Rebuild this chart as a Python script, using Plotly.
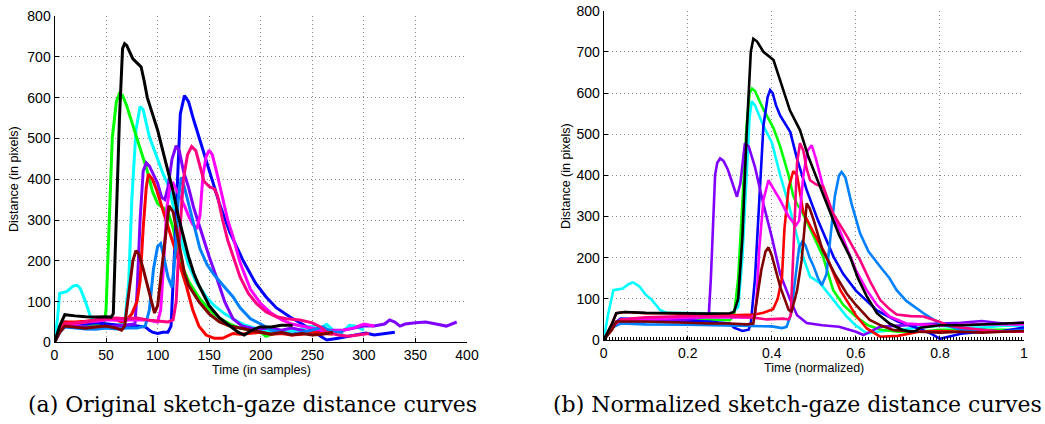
import plotly.graph_objects as go

# ---------------- Data: (a) original curves, x in samples ----------------
orig_cyan = [(0,0),(3,60),(5,120),(8,122),(12,125),(18,138),(22,140),(25,132),(30,100),(35,62),(40,48),(50,45),(60,42),(68,45),(72,150),(75,350),(79,520),(83,578),(86,570),(92,504),(100,450),(105,415),(111,382),(118,300),(124,240),(130,190),(137,150),(147,112),(155,90),(165,70),(175,55),(185,42),(195,35),(205,28),(215,22),(225,25),(235,30),(245,38),(252,40),(258,35),(264,44),(270,30),(280,28),(286,42),(292,40),(300,30)]
orig_green = [(0,0),(5,25),(10,45),(20,42),(30,40),(40,42),(48,45),(50,80),(53,300),(56,500),(60,590),(63,610),(66,605),(70,580),(75,540),(80,500),(85,460),(90,420),(95,370),(100,340),(105,330),(110,320),(115,280),(120,220),(125,180),(130,150),(140,110),(150,80),(160,60),(170,45),(180,35),(190,30),(200,25),(205,15),(210,20),(220,25)]
orig_blue = [(0,0),(5,30),(10,50),(20,48),(30,45),(40,48),(50,45),(60,42),(70,40),(80,40),(88,38),(92,30),(95,25),(100,22),(105,25),(110,25),(113,40),(116,200),(119,400),(122,560),(126,605),(130,590),(135,545),(141,496),(150,420),(160,340),(170,270),(183,200),(195,145),(205,112),(215,85),(228,63),(240,45),(250,30),(258,15),(264,6),(275,10),(290,18),(302,23),(310,18),(320,22),(330,25)]
orig_purple = [(0,0),(5,30),(10,42),(20,40),(30,38),(50,38),(60,40),(70,42),(78,45),(80,120),(83,300),(86,420),(89,440),(92,432),(96,410),(100,390),(104,355),(107,350),(110,380),(114,450),(118,482),(121,470),(125,420),(130,380),(135,330),(141,280),(150,210),(157,160),(165,100),(173,58),(182,40),(196,32),(210,35),(220,30),(230,35),(240,30),(250,25),(260,30),(270,30),(280,30),(290,35),(300,40),(310,40),(320,45),(325,55),(330,50),(335,40),(340,45),(350,48),(360,50),(370,45),(380,40),(390,50)]
orig_red = [(0,0),(5,30),(10,50),(20,50),(30,52),(40,55),(50,58),(60,55),(65,50),(70,55),(75,70),(80,100),(83,150),(86,280),(89,380),(91,412),(95,400),(99,374),(107,308),(115,243),(121,190),(128,137),(134,80),(140,40),(147,18),(155,10),(163,10),(173,22),(180,20),(190,22),(200,25),(210,20),(220,22),(230,18),(240,20),(250,25),(260,22),(270,20)]
orig_magenta = [(0,0),(5,25),(10,40),(20,45),(30,50),(40,52),(50,55),(60,55),(70,55),(80,55),(90,55),(100,50),(103,80),(106,200),(109,330),(112,385),(115,390),(118,375),(122,355),(126,335),(130,310),(134,290),(138,278),(141,310),(144,410),(147,455),(150,471),(153,460),(157,420),(163,357),(168,300),(173,260),(180,195),(190,130),(200,95),(210,72),(220,56),(230,45),(240,40),(250,35),(260,30),(270,28),(280,30),(290,35),(300,45),(310,40)]
orig_dodger = [(0,0),(5,25),(10,38),(20,35),(30,33),(40,32),(50,35),(60,33),(70,35),(80,35),(88,40),(92,80),(96,180),(100,235),(103,242),(106,210),(110,160),(114,135),(117,220),(120,350),(123,405),(126,380),(130,340),(135,290),(141,230),(148,190),(155,165),(165,135),(173,112),(180,85),(190,58),(200,45),(210,30),(220,25),(230,20),(240,25),(250,30),(260,38),(270,25),(280,25)]
orig_pink = [(0,0),(5,30),(10,45),(20,48),(30,50),(40,55),(50,58),(60,60),(70,58),(80,60),(90,55),(100,52),(110,50),(115,55),(118,100),(121,250),(125,400),(129,460),(133,480),(137,470),(141,430),(145,395),(150,382),(155,376),(158,360),(163,300),(168,250),(173,210),(180,160),(188,120),(196,95),(205,75),(215,63),(225,58),(238,55),(250,48),(258,38),(264,25),(275,18),(285,15),(295,18),(305,22)]
orig_maroon = [(0,0),(5,25),(10,40),(20,38),(30,35),(40,38),(50,40),(60,35),(65,30),(68,40),(72,120),(76,200),(79,225),(82,215),(86,180),(90,140),(94,100),(97,72),(100,90),(104,180),(108,280),(111,335),(115,320),(118,280),(122,220),(126,170),(130,140),(140,100),(150,70),(160,50),(170,40),(180,35),(190,30),(200,25),(210,20),(220,25),(230,18),(240,22),(250,18),(260,20),(270,25)]
orig_black = [(0,0),(5,40),(10,68),(15,66),(20,65),(30,63),(40,62),(50,63),(55,62),(57,70),(60,300),(63,550),(66,720),(68,732),(70,728),(73,710),(76,695),(80,685),(84,675),(87,640),(90,600),(95,560),(100,520),(105,470),(110,420),(115,370),(120,310),(125,260),(130,210),(135,170),(140,140),(145,115),(150,90),(160,60),(170,40),(178,25),(184,18),(190,28),(199,38),(210,38),(220,42),(231,42)]

# ---------------- Data: (b) normalized curves, x in [0, 1] ----------------
norm_cyan = [(0,0),(0.01,60),(0.023,121),(0.045,125),(0.06,136),(0.07,140),(0.085,130),(0.1,110),(0.115,97),(0.134,73),(0.15,66),(0.2,66),(0.25,65),(0.3,62),(0.32,80),(0.33,200),(0.34,400),(0.347,540),(0.352,580),(0.36,570),(0.38,520),(0.4,480),(0.42,400),(0.44,330),(0.468,220),(0.491,154),(0.515,138),(0.54,105),(0.56,80),(0.578,57),(0.6,35),(0.626,16),(0.65,20),(0.7,25),(0.75,30),(0.8,35),(0.85,30),(0.9,30),(0.95,35),(1,35)]
norm_green = [(0,0),(0.02,30),(0.04,45),(0.1,45),(0.2,48),(0.25,50),(0.3,48),(0.31,60),(0.32,150),(0.33,350),(0.34,520),(0.347,600),(0.353,611),(0.36,605),(0.38,560),(0.404,515),(0.42,470),(0.44,400),(0.451,350),(0.46,330),(0.47,315),(0.48,295),(0.5,250),(0.522,202),(0.546,121),(0.57,85),(0.602,55),(0.63,35),(0.66,25),(0.7,20),(0.75,20),(0.8,25),(0.85,25),(0.9,25),(1,25)]
norm_blue = [(0,0),(0.02,35),(0.04,52),(0.1,50),(0.15,48),(0.2,45),(0.25,45),(0.28,42),(0.3,40),(0.31,30),(0.32,25),(0.33,22),(0.345,25),(0.35,40),(0.36,150),(0.37,350),(0.38,520),(0.39,590),(0.396,607),(0.402,600),(0.41,570),(0.42,545),(0.444,505),(0.46,440),(0.483,364),(0.51,290),(0.547,202),(0.57,160),(0.6,120),(0.65,72),(0.7,45),(0.75,28),(0.78,15),(0.8,3),(0.82,8),(0.85,15),(0.9,20),(0.95,22),(1,30)]
norm_purple = [(0,0),(0.02,30),(0.04,45),(0.1,45),(0.15,48),(0.2,50),(0.24,55),(0.25,60),(0.255,150),(0.26,300),(0.265,400),(0.27,430),(0.277,441),(0.285,435),(0.295,415),(0.305,385),(0.317,348),(0.325,380),(0.33,430),(0.336,478),(0.345,470),(0.36,420),(0.38,330),(0.4,250),(0.42,160),(0.444,97),(0.46,60),(0.483,41),(0.52,36),(0.56,32),(0.6,20),(0.618,12),(0.657,32),(0.7,35),(0.75,38),(0.8,40),(0.85,42),(0.9,46),(0.95,40),(1,42)]
norm_red = [(0,0),(0.02,40),(0.03,65),(0.05,68),(0.1,65),(0.15,65),(0.2,63),(0.25,62),(0.3,60),(0.36,62),(0.38,66),(0.403,75),(0.414,100),(0.424,150),(0.43,270),(0.44,370),(0.451,410),(0.46,400),(0.475,310),(0.5,260),(0.531,202),(0.563,121),(0.6,60),(0.626,28),(0.658,8),(0.7,10),(0.75,20),(0.8,22),(0.85,20),(0.9,22),(1,20)]
norm_magenta = [(0,0),(0.02,30),(0.04,45),(0.1,50),(0.2,55),(0.3,55),(0.35,55),(0.36,60),(0.365,120),(0.37,220),(0.38,340),(0.392,388),(0.4,375),(0.42,340),(0.44,300),(0.457,278),(0.465,290),(0.475,400),(0.485,460),(0.495,473),(0.505,440),(0.52,380),(0.54,320),(0.56,270),(0.58,220),(0.6,170),(0.626,121),(0.65,85),(0.68,57),(0.72,40),(0.8,35),(0.9,38),(1,38)]
norm_dodger = [(0,0),(0.02,30),(0.04,40),(0.1,38),(0.2,37),(0.3,35),(0.35,33),(0.4,33),(0.424,29),(0.435,32),(0.445,60),(0.455,150),(0.465,225),(0.473,240),(0.48,230),(0.49,200),(0.499,180),(0.51,150),(0.519,133),(0.53,160),(0.54,250),(0.55,350),(0.56,400),(0.566,408),(0.575,395),(0.59,330),(0.61,259),(0.63,215),(0.658,178),(0.68,150),(0.697,121),(0.72,95),(0.761,65),(0.8,40),(0.85,25),(0.9,25),(0.95,20),(1,25)]
norm_pink = [(0,0),(0.02,30),(0.04,50),(0.1,55),(0.2,58),(0.3,58),(0.35,55),(0.388,50),(0.427,52),(0.44,50),(0.445,60),(0.45,200),(0.455,300),(0.46,430),(0.467,478),(0.475,460),(0.482,420),(0.491,388),(0.505,378),(0.522,372),(0.546,307),(0.58,250),(0.61,194),(0.635,140),(0.658,97),(0.68,75),(0.697,62),(0.73,58),(0.761,57),(0.8,44),(0.82,35),(0.85,30),(0.9,25),(0.95,20),(1,20)]
norm_maroon = [(0,0),(0.02,25),(0.03,45),(0.1,45),(0.2,42),(0.25,40),(0.3,40),(0.34,38),(0.356,40),(0.365,100),(0.375,170),(0.385,215),(0.392,225),(0.4,205),(0.42,129),(0.44,73),(0.447,69),(0.46,120),(0.471,194),(0.483,332),(0.49,320),(0.5,290),(0.52,220),(0.55,160),(0.578,113),(0.6,85),(0.633,49),(0.66,35),(0.69,24),(0.75,20),(0.8,18),(0.85,20),(0.9,18),(0.95,20),(1,22)]
norm_black = [(0,0),(0.01,20),(0.02,40),(0.03,65),(0.05,68),(0.1,66),(0.15,65),(0.2,64),(0.25,64),(0.3,65),(0.31,68),(0.32,100),(0.33,250),(0.34,500),(0.35,700),(0.356,732),(0.365,725),(0.38,700),(0.404,680),(0.42,630),(0.443,558),(0.467,510),(0.487,445),(0.51,385),(0.539,307),(0.56,255),(0.586,202),(0.605,150),(0.625,108),(0.65,65),(0.68,40),(0.71,25),(0.729,20),(0.742,22),(0.753,30),(0.8,36),(0.85,36),(0.9,38),(0.95,39),(1,42)]

# Draw order (later = on top) and colors
series_names = ["cyan", "green", "blue", "purple", "red", "magenta", "dodger", "pink", "maroon", "black"]
series_colors = ["#00FFFF", "#00FF00", "#0000FF", "#8000FF", "#FF0000", "#FF00FF", "#0080FF", "#FF0080", "#800000", "#000000"]
orig_series = [orig_cyan, orig_green, orig_blue, orig_purple, orig_red, orig_magenta, orig_dodger, orig_pink, orig_maroon, orig_black]
norm_series = [norm_cyan, norm_green, norm_blue, norm_purple, norm_red, norm_magenta, norm_dodger, norm_pink, norm_maroon, norm_black]

y_ticks = [0, 100, 200, 300, 400, 500, 600, 700, 800]
x_ticks_orig = [0, 50, 100, 150, 200, 250, 300, 350, 400]
x_ticks_norm = [0, 0.2, 0.4, 0.6, 0.8, 1]
x_ticktext_norm = ["0", "0.2", "0.4", "0.6", "0.8", "1"]

fig = go.Figure()

for name, color, pts in zip(series_names, series_colors, orig_series):
    fig.add_trace(go.Scatter(x=[p[0] for p in pts], y=[p[1] for p in pts], mode="lines",
                             line=dict(color=color, width=3), name=name, xaxis="x", yaxis="y",
                             showlegend=False))
for name, color, pts in zip(series_names, series_colors, norm_series):
    fig.add_trace(go.Scatter(x=[p[0] for p in pts], y=[p[1] for p in pts], mode="lines",
                             line=dict(color=color, width=2.6), name=name, xaxis="x2", yaxis="y2",
                             showlegend=False))

W, H = 1045, 424
def px_x(v):
    return v / W
def px_y(v):
    return 1 - v / H

tick_font = dict(family="Liberation Sans, Arial, sans-serif", size=14, color="black")
axis_common = dict(showline=True, linecolor="black", linewidth=1, ticks="inside", ticklen=4,
                   tickcolor="black", showgrid=True, gridcolor="#8c8c8c", griddash="1px,3px",
                   gridwidth=1, zeroline=False, tickfont=tick_font, mirror=False, automargin=False)

fig.update_layout(
    width=W, height=H, margin=dict(l=0, r=0, t=0, b=0, autoexpand=False),
    paper_bgcolor="white", plot_bgcolor="white", showlegend=False,
    xaxis=dict(domain=[px_x(54.5), px_x(467)], range=[0, 400], tickvals=x_ticks_orig,
               anchor="y", **axis_common),
    yaxis=dict(domain=[px_y(342.4), px_y(16)], range=[0, 800], tickvals=y_ticks,
               anchor="x", **axis_common),
    xaxis2=dict(domain=[px_x(603.7), px_x(1024)], range=[0, 1], tickvals=x_ticks_norm,
                ticktext=x_ticktext_norm, anchor="y2",
                minor=dict(ticks="inside", ticklen=3, dtick=0.007, tickcolor="black", showgrid=False),
                **axis_common),
    yaxis2=dict(domain=[px_y(340), px_y(10.7)], range=[0, 800], tickvals=y_ticks,
                anchor="x2", **axis_common),
)

label_font = dict(family="Liberation Sans, Arial, sans-serif", size=12.5, color="black")
cap_font = dict(family="DejaVu Serif, Liberation Serif, serif", size=22, color="black")

annotations = [
    dict(text="Distance (in pixels)", x=px_x(14), y=px_y(179), textangle=-90, font=label_font),
    dict(text="Time (in samples)", x=px_x(261), y=px_y(370), font=label_font),
    dict(text="Distance (in pixels)", x=px_x(566), y=px_y(176), textangle=-90, font=label_font),
    dict(text="Time (normalized)", x=px_x(814), y=px_y(368), font=label_font),
    dict(text="(a) Original sketch-gaze distance curves", x=px_x(252), y=px_y(404), font=cap_font),
    dict(text="(b) Normalized sketch-gaze distance curves", x=px_x(797), y=px_y(404), font=cap_font),
]
for a in annotations:
    fig.add_annotation(xref="paper", yref="paper", showarrow=False, xanchor="center", yanchor="middle", **a)

fig.write_html("out.html", config={"displayModeBar": False},
               post_script="document.body.style.margin='0';document.body.style.overflow='hidden';")
